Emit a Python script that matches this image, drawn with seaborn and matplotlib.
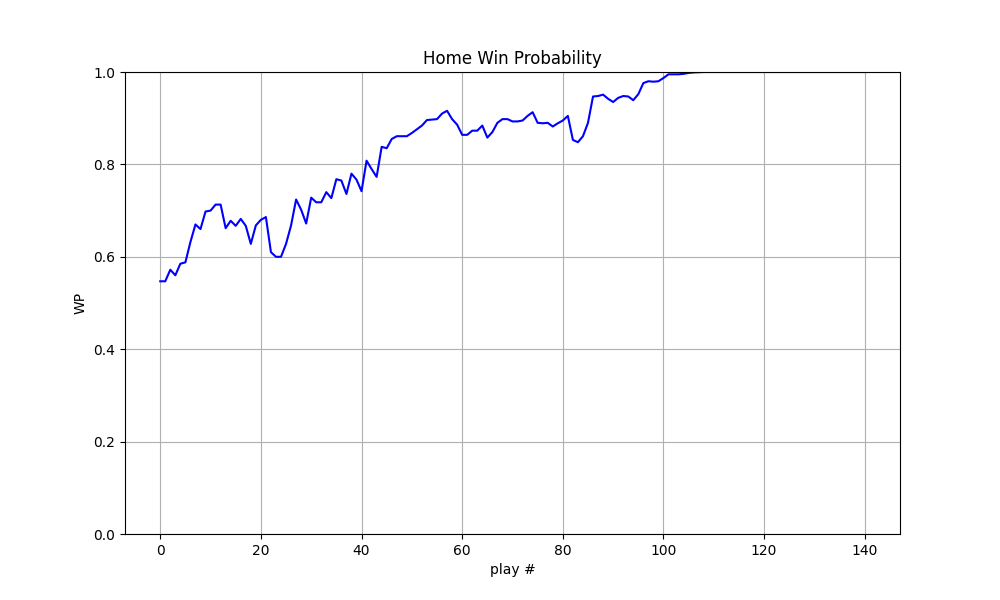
import numpy as np
import pandas as pd
import seaborn as sns
import matplotlib
matplotlib.use('Agg')
import matplotlib.pyplot as plt

# home win probability after each play
wp = [
    0.547, 0.547, 0.572, 0.560, 0.585, 0.588, 0.632, 0.670, 0.660, 0.698,
    0.700, 0.713, 0.713, 0.662, 0.678, 0.667, 0.682, 0.667, 0.628, 0.668,
    0.680, 0.686, 0.610, 0.600, 0.600, 0.628, 0.668, 0.724, 0.702, 0.672,
    0.728, 0.718, 0.718, 0.740, 0.727, 0.768, 0.765, 0.736, 0.780, 0.767,
    0.742, 0.808, 0.790, 0.773, 0.838, 0.835, 0.855, 0.861, 0.861, 0.861,
    0.868, 0.876, 0.884, 0.896, 0.897, 0.898, 0.910, 0.916, 0.898, 0.886,
    0.864, 0.864, 0.873, 0.873, 0.884, 0.858, 0.870, 0.890, 0.898, 0.898,
    0.893, 0.893, 0.895, 0.905, 0.913, 0.890, 0.889, 0.890, 0.882, 0.889,
    0.895, 0.905, 0.853, 0.848, 0.861, 0.890, 0.947, 0.948, 0.951, 0.942,
    0.935, 0.944, 0.948, 0.947, 0.939, 0.952, 0.976, 0.980, 0.979, 0.980,
    0.987, 0.995, 0.995, 0.995, 0.996, 0.998, 0.999, 0.9995, 1.0, 1.0,
    1.0, 1.0, 1.0, 1.0, 1.0, 1.0, 1.0, 1.0, 1.0, 1.0,
    1.0, 1.0, 1.0, 1.0, 1.0, 1.0, 1.0, 1.0, 1.0, 1.0,
    1.0, 1.0, 1.0, 1.0, 1.0, 1.0, 1.0, 1.0, 1.0, 1.0,
    1.0,
]
plays = list(range(len(wp)))

df = pd.DataFrame({'play #': plays, 'WP': wp})

plt.figure(figsize=(10, 6))
sns.lineplot(data=df, x='play #', y='WP', color='blue')
plt.ylim(0, 1)
plt.title('Home Win Probability')
plt.grid(True)
plt.savefig('out.png', dpi=100)
